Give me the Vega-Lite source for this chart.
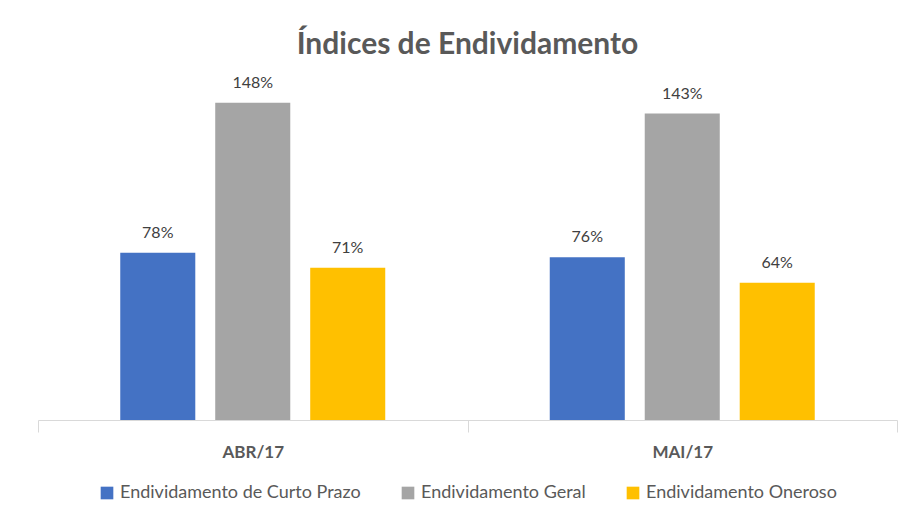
{
  "$schema": "https://vega.github.io/schema/vega-lite/v6.json",
  "autosize": {"type": "none"},
  "padding": {"left": 38, "right": 9, "top": 60, "bottom": 95},
  "width": 859,
  "height": 360,
  "background": "white",
  "title": {
    "text": "Índices de Endividamento",
    "font": "Lato",
    "fontSize": 30,
    "fontWeight": "bold",
    "color": "#595959",
    "anchor": "middle",
    "offset": 2,
    "dy": 2
  },
  "data": {
    "values": [
      {"mes": "ABR/17", "serie": "Endividamento de Curto Prazo", "valor": 0.78},
      {"mes": "ABR/17", "serie": "Endividamento Geral", "valor": 1.48},
      {"mes": "ABR/17", "serie": "Endividamento Oneroso", "valor": 0.71},
      {"mes": "MAI/17", "serie": "Endividamento de Curto Prazo", "valor": 0.76},
      {"mes": "MAI/17", "serie": "Endividamento Geral", "valor": 1.43},
      {"mes": "MAI/17", "serie": "Endividamento Oneroso", "valor": 0.64}
    ]
  },
  "encoding": {
    "x": {
      "field": "mes",
      "type": "nominal",
      "title": null,
      "scale": {"paddingInner": 0, "paddingOuter": 0},
      "axis": {
        "labelAngle": 0,
        "labelFont": "Lato",
        "labelFontSize": 17,
        "labelFontWeight": "bold",
        "labelColor": "#595959",
        "labelPadding": 12,
        "domainColor": "#d9d9d9",
        "tickColor": "#d9d9d9",
        "tickSize": 12,
        "tickBand": "extent"
      }
    },
    "xOffset": {
      "field": "serie",
      "type": "nominal",
      "sort": ["Endividamento de Curto Prazo", "Endividamento Geral", "Endividamento Oneroso"],
      "scale": {"domain": ["Endividamento de Curto Prazo", "Endividamento Geral", "Endividamento Oneroso"], "paddingInner": 0.21, "paddingOuter": 0.866}
    },
    "y": {
      "field": "valor",
      "type": "quantitative",
      "scale": {"domain": [0, 1.68]},
      "axis": null
    }
  },
  "layer": [
    {
      "mark": {"type": "bar"},
      "encoding": {
        "color": {
          "field": "serie",
          "type": "nominal",
          "scale": {
            "domain": ["Endividamento de Curto Prazo", "Endividamento Geral", "Endividamento Oneroso"],
            "range": ["#4472c4", "#a5a5a5", "#ffc000"]
          },
          "legend": {
            "title": null,
            "orient": "bottom",
            "direction": "horizontal",
            "symbolType": "square",
            "symbolSize": 160,
            "symbolStrokeWidth": 0,
            "labelFont": "Lato",
            "labelFontSize": 18,
            "labelColor": "#595959",
            "labelLimit": 0,
            "columnPadding": 38,
            "labelOffset": 4,
            "offset": 24
          }
        }
      }
    },
    {
      "mark": {"type": "text", "baseline": "bottom", "dy": -12, "font": "Lato", "fontSize": 16, "color": "#404040"},
      "encoding": {
        "text": {"field": "valor", "type": "quantitative", "format": ".0%"},
        "detail": {"field": "serie"}
      }
    }
  ],
  "config": {
    "view": {"stroke": null},
    "legend": {"layout": {"bottom": {"anchor": "middle"}}}
  }
}
